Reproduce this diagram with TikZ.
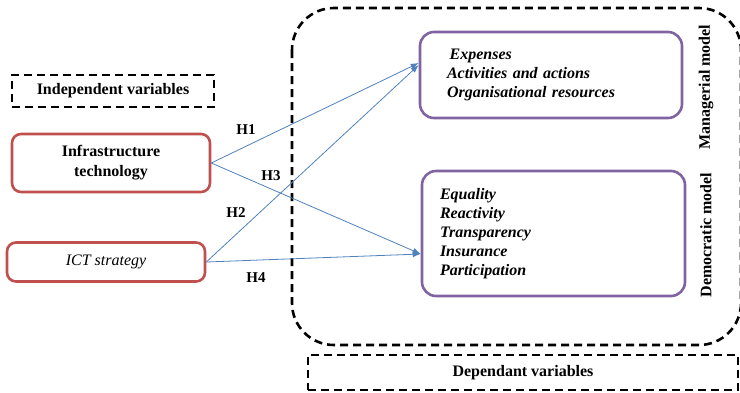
\documentclass[tikz,border=0pt]{standalone}
\usepackage{fontspec}
\setmainfont{Liberation Serif}
\usepackage{tikz}
\usetikzlibrary{arrows.meta}
\definecolor{redbox}{RGB}{192,80,77}
\definecolor{purplebox}{RGB}{128,100,162}
\definecolor{arrowblue}{RGB}{79,129,189}
\tikzset{
  dashbox/.style={draw,line width=2.6pt,dash pattern=on 8pt off 5pt},
  varbox/.style={draw=redbox,line width=2.6pt,rounded corners=9pt,align=center,
    font=\bfseries\fontsize{16}{20}\selectfont},
  modelbox/.style={draw=purplebox,line width=2.6pt,rounded corners=14pt,align=left,
    font=\bfseries\itshape\fontsize{16}{19}\selectfont},
  hyp/.style={->,>={Latex[length=8pt,width=6pt]},draw=arrowblue,line width=0.8pt},
  hlabel/.style={font=\bfseries\fontsize{15}{18}\selectfont},
}
\begin{document}
\begin{tikzpicture}[x=1pt,y=-1pt]
    \useasboundingbox (0,0) rectangle (740,392);
    % dependent side
    \draw[dashbox,rounded corners=42pt] (292,8) rectangle (741,345);
    \node[dashbox,minimum width=430pt,minimum height=35pt,
          font=\bfseries\fontsize{16}{18}\selectfont] (dep) at (523,372.5) {Dependant variables};
    % independent side
    \node[dashbox,minimum width=202pt,minimum height=32pt,
          font=\bfseries\fontsize{16}{18}\selectfont] (indep) at (113,91) {Independent variables};
    \node[varbox,minimum width=198pt,minimum height=58pt] (infra) at (111,163) {Infrastructure\\technology};
    \node[varbox,minimum width=198pt,minimum height=39pt,font=\itshape\fontsize{16}{20}\selectfont] (ict) at (106,262) {ICT strategy};
    % models
    \node[modelbox,minimum width=262pt,minimum height=86pt,text width=208pt,inner xsep=27pt] (manag) at (551,75)
        {\,Expenses\\Activities and actions\\Organisational resources};
    \node[modelbox,minimum width=263pt,minimum height=125pt,text width=227pt,inner xsep=18pt] (demo) at (553.5,233.5)
        {Equality\\Reactivity\\Transparency\\Insurance\\Participation};
    \node[rotate=90,font=\bfseries\fontsize{16}{18}\selectfont] (mlab) at (706,87) {Managerial model};
    \node[rotate=90,font=\bfseries\fontsize{16}{18}\selectfont] (dlab) at (706,235) {Democratic model};
    % hypotheses
    \draw[hyp] (infra.east) -- (manag.west |- 0,63);
    \draw[hyp] (infra.east) -- (demo.west |- 0,254);
    \draw[hyp] (ict.east) -- (manag.west |- 0,65);
    \draw[hyp] (ict.east) -- (demo.west |- 0,254);
    \node[hlabel] (h1) at (246,130) {H1};
    \node[hlabel] (h3) at (271,176) {H3};
    \node[hlabel] (h2) at (236,213) {H2};
    \node[hlabel] (h4) at (256,278) {H4};
\end{tikzpicture}
\end{document}
